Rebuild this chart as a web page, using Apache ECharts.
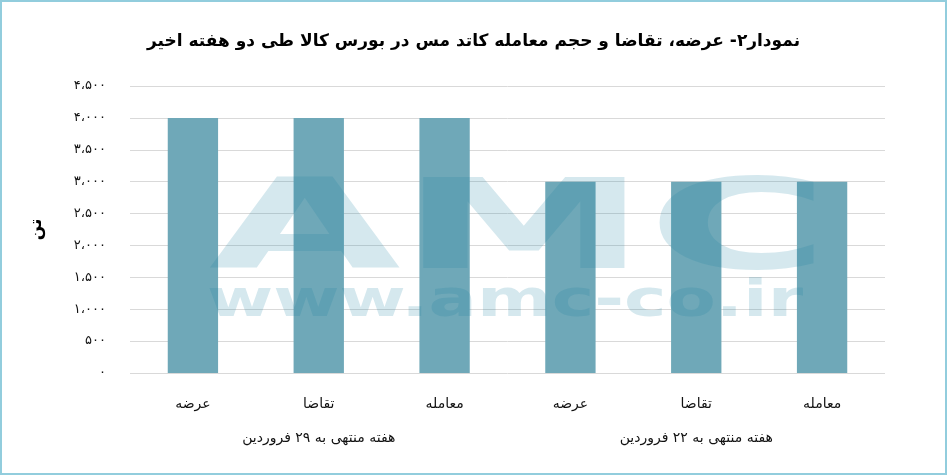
<!DOCTYPE html>
<html>
<head>
<meta charset="utf-8">
<script src="https://cdn.jsdelivr.net/npm/echarts@6/dist/echarts.min.js"></script>
<style>
  html, body { margin: 0; padding: 0; background: #fff; }
  #chart { width: 943px; height: 471px; border: 2px solid #92cddd; }
</style>
</head>
<body>
<div id="chart"></div>
<script>
// data
const categories = ['عرضه', 'تقاضا', 'معامله', 'عرضه', 'تقاضا', 'معامله']
const groups = ['هفته منتهی به ۲۹ فروردین', 'هفته منتهی به ۲۲ فروردین']
const values = [4000, 4000, 4000, 3000, 3000, 3000]
const yTickLabels = ['۰', '۵۰۰', '۱،۰۰۰', '۱،۵۰۰', '۲،۰۰۰', '۲،۵۰۰', '۳،۰۰۰', '۳،۵۰۰', '۴،۰۰۰', '۴،۵۰۰']

const titleText = 'نمودار۲- عرضه، تقاضا و حجم معامله کاتد مس در بورس کالا طی دو هفته اخیر'
const fontFa = 'DejaVu Sans'
const wmColor = 'rgba(22,130,160,0.18)'

let myChart = echarts.init(document.getElementById('chart'))

myChart.setOption({
  animation: false,
  title: {
    text: titleText,
    left: 'center',
    top: 26,
    textStyle: { fontFamily: fontFa, fontSize: 17, fontWeight: 'bold', color: '#000' }
  },
  grid: { left: 128, right: 60, top: 84, bottom: 100 },
  xAxis: [
    {
      type: 'category',
      data: categories,
      axisLine: { show: false },
      axisTick: { show: false },
      axisLabel: { margin: 24, fontFamily: fontFa, fontSize: 14, color: '#111' }
    },
    {
      type: 'category',
      data: groups,
      position: 'bottom',
      offset: 58,
      axisLine: { show: false },
      axisTick: { show: false },
      axisLabel: { margin: 0, fontFamily: fontFa, fontSize: 14, color: '#111' }
    }
  ],
  yAxis: {
    type: 'value',
    min: 0,
    max: 4500,
    interval: 500,
    name: 'تن',
    nameLocation: 'middle',
    nameRotate: 90,
    nameGap: 85,
    nameTextStyle: { fontFamily: fontFa, fontSize: 17, fontWeight: 'bold', color: '#000' },
    axisLine: { show: false },
    axisTick: { show: false },
    axisLabel: {
      margin: 24,
      fontFamily: fontFa,
      fontSize: 13,
      color: '#111',
      formatter: function (v) {
        return yTickLabels[Math.round(v / 500)]
      }
    },
    splitLine: { lineStyle: { color: '#d9d9d9', width: 1 } }
  },
  series: [{
    type: 'bar',
    xAxisIndex: 0,
    data: values,
    barWidth: '40%',
    itemStyle: { color: '#6fa8b8' }
  }],
  // faint AMC watermark laid over the plot
  graphic: [
    {
      type: 'text',
      x: 517,
      y: 234,
      scaleX: 2.0,
      z: 100,
      silent: true,
      style: {
        text: 'AMC',
        font: 'bold 124px "DejaVu Sans"',
        fill: wmColor,
        textAlign: 'center',
        textVerticalAlign: 'middle',
        align: 'center',
        verticalAlign: 'middle'
      }
    },
    {
      type: 'text',
      x: 503,
      y: 300,
      scaleX: 1.38,
      z: 100,
      silent: true,
      style: {
        text: 'www.amc-co.ir',
        font: 'bold 52px "DejaVu Sans"',
        fill: wmColor,
        textAlign: 'center',
        textVerticalAlign: 'middle',
        align: 'center',
        verticalAlign: 'middle'
      }
    }
  ]
})
</script>
</body>
</html>
